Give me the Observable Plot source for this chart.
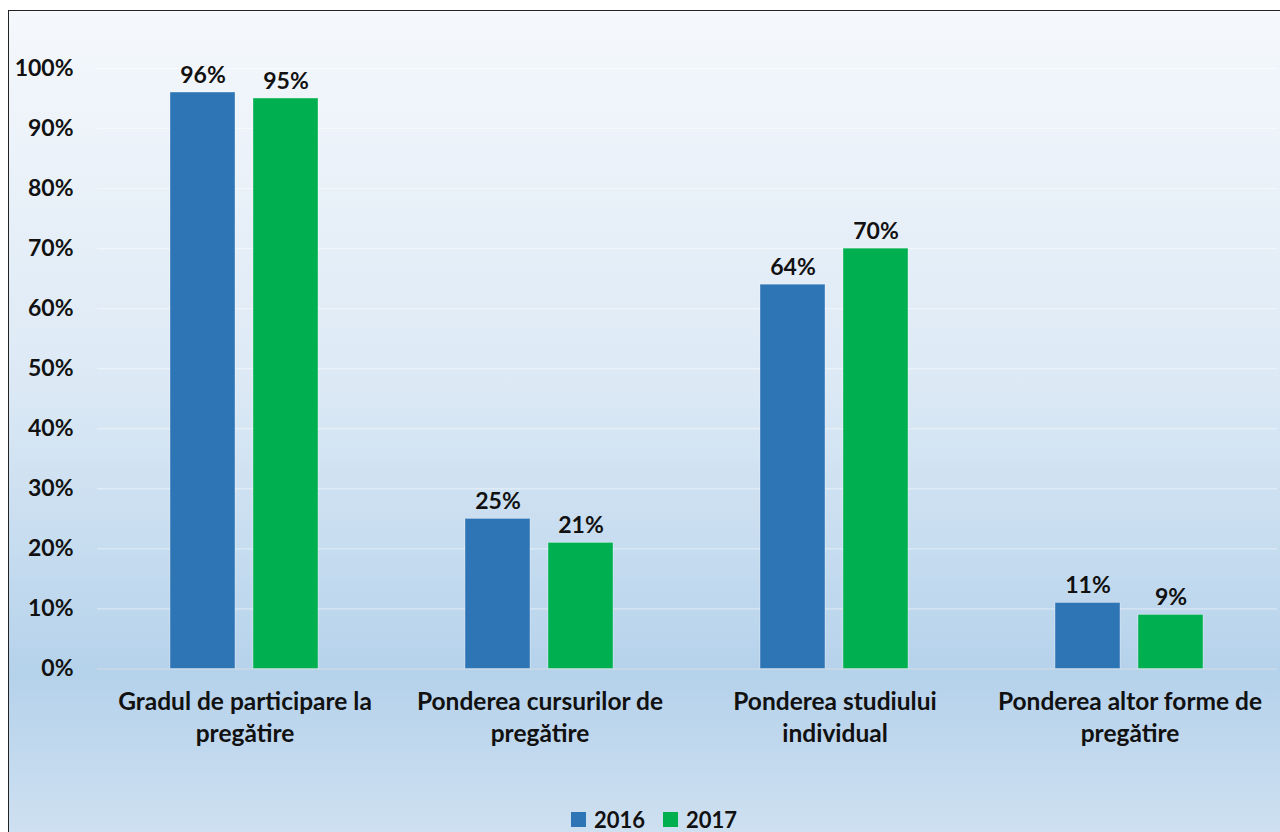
<!DOCTYPE html>
<html>
<head>
<meta charset="utf-8">
<script src="https://cdn.jsdelivr.net/npm/d3@7"></script>
<script src="https://cdn.jsdelivr.net/npm/@observablehq/plot@0.6"></script>
<style>
  html, body { margin: 0; padding: 0; background: #fff; }
  #frame {
    position: absolute; left: 8px; top: 10px; width: 1280px; height: 830px;
    border-left: 1.5px solid #222; border-top: 1.5px solid #222;
    background: linear-gradient(to bottom, #f5f8fc 0%, #dce9f5 45%, #b5d2eb 80%, #c2d9ee 90%, #cfe1f1 100%);
    font-family: Lato, "Open Sans", sans-serif;
  }
  #chart { position: absolute; left: 0; top: 0; }
  #legend {
    position: absolute; top: 795px; left: 562px; display: flex; align-items: center;
    font-size: 22px; font-weight: bold; color: #111;
  }
  #legend .sw { width: 15px; height: 15px; margin-right: 8px; display: inline-block; }
  #legend .item { display: flex; align-items: center; margin-right: 18px; }
</style>
</head>
<body>
<div id="frame">
  <div id="chart"></div>
  <div id="legend"></div>
</div>
<script>
const categories = ["Gradul de participare la pregătire", "Ponderea cursurilor de pregătire", "Ponderea studiului individual", "Ponderea altor forme de pregătire"];
const categoryLabels = ["Gradul de participare la\npregătire", "Ponderea cursurilor de\npregătire", "Ponderea studiului\nindividual", "Ponderea altor forme de\npregătire"];
const years = ["2016", "2017"];
const values2016 = [96, 25, 64, 11];
const values2017 = [95, 21, 70, 9];
const yTicks = [0, 10, 20, 30, 40, 50, 60, 70, 80, 90, 100];
const colors = ["#2e75b6", "#00b050"];

const data = categories.flatMap((c, i) => [
  {category: c, year: "2016", value: values2016[i]},
  {category: c, year: "2017", value: values2017[i]}
]);

const chart = Plot.plot({
  width: 1272,
  height: 760,
  marginLeft: 88,
  marginRight: 4,
  marginTop: 57,
  marginBottom: 102.5,
  style: {background: "transparent", fontFamily: "Lato, 'Open Sans', sans-serif", color: "#111", overflow: "visible"},
  fx: {domain: categories, padding: 0, label: null},
  x: {domain: years, paddingInner: 0.214, paddingOuter: 0.863, axis: null},
  y: {domain: [0, 100], label: null},
  color: {domain: years, range: colors},
  marks: [
    Plot.gridY({ticks: yTicks.filter(d => d > 0), stroke: "#ffffff", strokeOpacity: 0.55, strokeWidth: 1}),
    Plot.ruleY([0], {stroke: "#d3dde8", strokeWidth: 1}),
    Plot.barY(data, {fx: "category", x: "year", y: "value", fill: "year", stroke: "#ffffff", strokeOpacity: 0.35, strokeWidth: 1}),
    Plot.text(data, {fx: "category", x: "year", y: "value", text: d => d.value + "%", lineAnchor: "bottom", dy: -10, fontSize: 23, fontWeight: "bold", fill: "#111"}),
    Plot.axisY({ticks: yTicks, tickFormat: d => d + "%", tickSize: 0, tickPadding: 24, fontSize: 23, fontWeight: "bold", label: null}),
    Plot.axisFx({anchor: "bottom", tickSize: 0, tickPadding: 18, fontSize: 24.5, fontWeight: "bold", lineHeight: 1.31, label: null,
      tickFormat: d => categoryLabels[categories.indexOf(d)]})
  ]
});
document.getElementById("chart").appendChild(chart);

const legend = document.getElementById("legend");
years.forEach((y, i) => {
  const item = document.createElement("span");
  item.className = "item";
  item.innerHTML = `<span class="sw" style="background:${colors[i]}"></span>${y}`;
  legend.appendChild(item);
});
</script>
</body>
</html>
